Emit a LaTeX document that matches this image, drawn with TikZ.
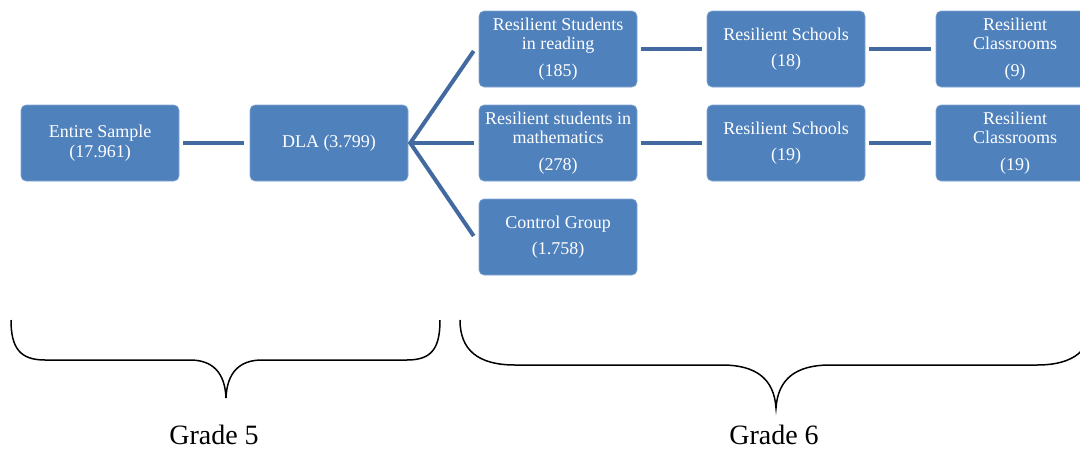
\documentclass[tikz,border=0pt]{standalone}
\usepackage{fontspec}
\setmainfont{Liberation Serif}
\definecolor{boxblue}{RGB}{79,129,189}
\definecolor{linkblue}{RGB}{66,106,160}
\begin{document}
\begin{tikzpicture}[x=1pt,y=-1pt,
  stagebox/.style={fill=boxblue, draw=boxblue!70!white, line width=0.6pt,
    rounded corners=5pt, text=white, align=center,
    minimum width=158pt, minimum height=76pt, inner sep=0pt,
    font=\fontsize{18}{19.5}\selectfont},
  link/.style={draw=linkblue, line width=4.5pt, shorten <=3.5pt, shorten >=4.5pt},
  fan/.style={draw=linkblue, line width=4pt},
  brace/.style={draw=black, line width=1.5pt},
  grade/.style={font=\fontsize{28}{30}\selectfont, anchor=base}]
\useasboundingbox (0,0) rectangle (1080,448);

% stage boxes
\node[stagebox] (entire) at (100,143) {Entire Sample\\(17.961)};
\node[stagebox] (dla)    at (329,143) {DLA (3.799)};
\node[stagebox] (read)   at (558,49)  {Resilient Students\\in reading\\[7pt](185)};
\node[stagebox] (schR)   at (786,49)  {Resilient Schools\\[6pt](18)};
\node[stagebox] (clsR)   at (1015,49) {Resilient\\Classrooms\\[7pt](9)};
\node[stagebox] (math)   at (558,143) {Resilient students in\\mathematics\\[7pt](278)};
\node[stagebox] (schM)   at (786,143) {Resilient Schools\\[6pt](19)};
\node[stagebox] (clsM)   at (1015,143) {Resilient\\Classrooms\\[7pt](19)};
\node[stagebox] (ctrl)   at (558,237) {Control Group\\[6pt](1.758)};

% straight links
\draw[link, shorten >=6pt] (entire) -- (dla);
\draw[link] (read) -- (schR);
\draw[link] (schR) -- (clsR);
\draw[link] (math) -- (schM);
\draw[link] (schM) -- (clsM);

% fan out of DLA
\coordinate (split) at ([xshift=2pt]dla.east);
\draw[fan] ([xshift=-5pt,yshift=-2pt]read.west) -- (split) -- ([xshift=-5pt,yshift=1pt]ctrl.west);
\draw[fan] (split) -- ([xshift=-5pt]math.west);

% grade braces
\draw[brace] (11,320) .. controls (11,348) and (20,360) .. (45,360)
  -- (190,360) .. controls (212,360) and (225,372) .. (226,398)
  .. controls (227,372) and (240,360) .. (262,360)
  -- (407,360) .. controls (432,360) and (440,348) .. (440,320);
\draw[brace] (460,320) .. controls (460,350) and (478,365) .. (515,365)
  -- (722,365) .. controls (755,365) and (774,378) .. (776,408)
  .. controls (778,378) and (797,365) .. (830,365)
  -- (1037,365) .. controls (1074,365) and (1092,350) .. (1092,320);

\node[grade] (g5) at (214,444) {Grade 5};
\node[grade] (g6) at (774,444) {Grade 6};
\end{tikzpicture}
\end{document}
